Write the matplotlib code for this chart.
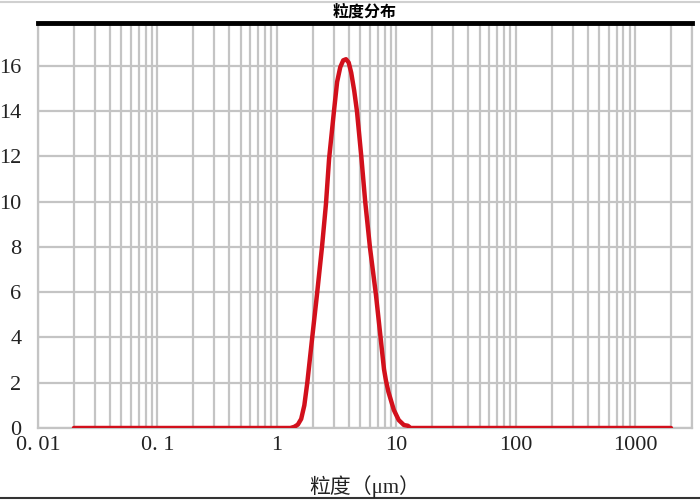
import numpy as np
import matplotlib
matplotlib.use('Agg')
import matplotlib.pyplot as plt
from matplotlib.lines import Line2D

plt.rcParams['font.family'] = ['Liberation Serif', 'Noto Sans CJK SC']

# particle size (um) and distribution (%)
size_um = [0.02, 1.3, 1.4, 1.5, 1.6, 1.7, 1.8, 1.97, 2.17, 2.39, 2.58, 2.74,
           3.01, 3.2, 3.4, 3.6, 3.8, 4.0, 4.2, 4.45, 4.69, 5.1, 5.5, 6.02,
           6.76, 7.43, 7.9, 8.2, 8.6, 9.55, 10.5, 11.6, 12.5, 13.2, 2000]
dist = [0, 0, 0.05, 0.15, 0.4, 1.0, 2.0, 3.9, 5.9, 8.0, 9.9, 11.9,
        14.0, 15.3, 15.95, 16.25, 16.3, 16.15, 15.7, 14.9, 14.0, 12.0, 10.0,
        8.0, 5.9, 3.9, 2.6, 2.1, 1.6, 0.8, 0.35, 0.13, 0.1, 0, 0]

xticks = [0.01, 0.1, 1, 10, 100, 1000]
xticklabels = ['0. 01', '0. 1', '1', '10', '100', '1000']
yticks = [0, 2, 4, 6, 8, 10, 12, 14, 16]

fig = plt.figure(figsize=(7, 5), dpi=100)
ax = fig.add_axes([38/700, 1 - 428/500, (692-38)/700, (428-23)/500])

ax.plot(size_um, dist, color='#d2101c', lw=3.2, solid_capstyle='round',
        solid_joinstyle='round', zorder=3)

ax.set_xscale('log')
ax.set_xlim(0.01, 3000)
ax.set_ylim(0, 17.9)
ax.set_xticks(xticks)
ax.set_xticklabels(xticklabels)
ax.set_yticks(yticks)
ax.tick_params(length=0, labelsize=16, colors='#222222', pad=6)
ax.tick_params(axis='y', pad=12)

ax.grid(which='both', axis='x', color='#c4c4c4', lw=1.6)
ax.grid(which='major', axis='y', color='#c4c4c4', lw=1.6)
ax.minorticks_on()
ax.tick_params(which='minor', length=0)
ax.yaxis.set_minor_locator(plt.NullLocator())

for s in ['left', 'right', 'bottom']:
    ax.spines[s].set_color('#c4c4c4')
    ax.spines[s].set_linewidth(1.6)
ax.spines['top'].set_color('black')
ax.spines['top'].set_linewidth(3.5)

fig.text(365/700, 1 - 12/500, '粒度分布', ha='center', va='center',
         fontsize=11.5, fontweight='bold', family=['Noto Sans CJK SC'])
fig.text(365/700, 1 - 487/500, '粒度（μm）', ha='center', va='center',
         fontsize=15, color='#222222')

fig.add_artist(Line2D([0, 1], [0.996, 0.996], color='#d0d0d0', lw=1.5))
fig.add_artist(Line2D([0, 1], [0.004, 0.004], color='#333333', lw=1.5))

fig.savefig('out.png', dpi=100)
